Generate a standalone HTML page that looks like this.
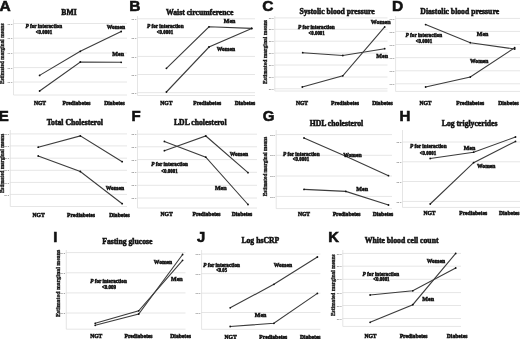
<!DOCTYPE html>
<html><head><meta charset="utf-8"><style>
html,body{margin:0;padding:0;background:#fff;}
body{width:520px;height:339px;overflow:hidden;}
svg{display:block;will-change:transform;filter:blur(0.3px);}
text{stroke:#111;stroke-width:0.5px;}
</style></head><body>
<svg width="520" height="339" viewBox="0 0 520 339">
<defs>
<clipPath id="clipC"><rect x="258" y="0" width="132" height="110"/></clipPath>
<clipPath id="clipG"><rect x="258" y="108" width="132" height="115"/></clipPath>
</defs>
<rect width="520" height="339" fill="#fff"/>
<text x="-0.53" y="10.7" font-family='"Liberation Sans", sans-serif' font-size="15.5" font-weight="bold" font-style="normal" text-anchor="start" fill="#111" style="stroke-width:0.6px">A</text>
<text x="69" y="15.2" font-family='"Liberation Serif", serif' font-size="7.7" font-weight="bold" font-style="normal" text-anchor="middle" fill="#111" style="stroke-width:0.5px">BMI</text>
<line x1="12.9" y1="23.5" x2="127" y2="23.5" stroke="#e6e6e6" stroke-width="1"/>
<text x="12.3" y="24.6" font-family='"Liberation Serif", serif' font-size="2.8" text-anchor="end" fill="#5a5a5a" style="stroke:none">00.0</text>
<line x1="12.9" y1="38.2" x2="127" y2="38.2" stroke="#e6e6e6" stroke-width="1"/>
<text x="12.3" y="39.300000000000004" font-family='"Liberation Serif", serif' font-size="2.8" text-anchor="end" fill="#5a5a5a" style="stroke:none">00.0</text>
<line x1="12.9" y1="53" x2="127" y2="53" stroke="#e6e6e6" stroke-width="1"/>
<text x="12.3" y="54.1" font-family='"Liberation Serif", serif' font-size="2.8" text-anchor="end" fill="#5a5a5a" style="stroke:none">00.0</text>
<line x1="12.9" y1="67.6" x2="127" y2="67.6" stroke="#e6e6e6" stroke-width="1"/>
<text x="12.3" y="68.69999999999999" font-family='"Liberation Serif", serif' font-size="2.8" text-anchor="end" fill="#5a5a5a" style="stroke:none">00.0</text>
<line x1="12.9" y1="82" x2="127" y2="82" stroke="#e6e6e6" stroke-width="1"/>
<text x="12.3" y="83.1" font-family='"Liberation Serif", serif' font-size="2.8" text-anchor="end" fill="#5a5a5a" style="stroke:none">00.0</text>
<line x1="13.5" y1="95" x2="127" y2="95" stroke="#e6e6e6" stroke-width="1"/>
<line x1="13.5" y1="19.5" x2="13.5" y2="95" stroke="#dedede" stroke-width="0.8"/>
<text transform="translate(4.0,53.75) rotate(-90)" font-family='"Liberation Serif", serif' font-size="5.3" font-weight="bold" text-anchor="middle" fill="#111" style="stroke-width:0.3px">Estimated marginal means</text>
<polyline points="39.6,75.4 80.3,51.3 121.2,31.5" fill="none" stroke="#3c3c3c" stroke-width="1.1" stroke-linejoin="miter"/>
<circle cx="39.6" cy="75.4" r="0.9" fill="#111"/>
<circle cx="80.3" cy="51.3" r="0.9" fill="#111"/>
<circle cx="121.2" cy="31.5" r="0.9" fill="#111"/>
<polyline points="39.6,91 80.3,62 121.2,62.3" fill="none" stroke="#3c3c3c" stroke-width="1.1" stroke-linejoin="miter"/>
<circle cx="39.6" cy="91" r="0.9" fill="#111"/>
<circle cx="80.3" cy="62" r="0.9" fill="#111"/>
<circle cx="121.2" cy="62.3" r="0.9" fill="#111"/>
<text x="125" y="29.3" font-family='"Liberation Serif", serif' font-size="5.6" font-weight="bold" font-style="normal" text-anchor="end" fill="#111" >Women</text>
<text x="124" y="55.8" font-family='"Liberation Serif", serif' font-size="6.0" font-weight="bold" font-style="normal" text-anchor="end" fill="#111" >Men</text>
<text x="25.5" y="27.8" font-family='"Liberation Serif", serif' font-size="5.4" font-weight="bold" fill="#111" textLength="36.6" lengthAdjust="spacingAndGlyphs"><tspan font-style="italic">P</tspan> for interaction</text>
<text x="44.0" y="33.6" font-family='"Liberation Serif", serif' font-size="5.4" font-weight="bold" font-style="normal" text-anchor="middle" fill="#111" textLength="16.4" lengthAdjust="spacingAndGlyphs">&lt;0.0001</text>
<text x="40" y="105" font-family='"Liberation Serif", serif' font-size="5.6" font-weight="bold" font-style="normal" text-anchor="middle" fill="#111" >NGT</text>
<text x="76.5" y="105" font-family='"Liberation Serif", serif' font-size="5.6" font-weight="bold" font-style="normal" text-anchor="middle" fill="#111" >Prediabetes</text>
<text x="114.5" y="105" font-family='"Liberation Serif", serif' font-size="5.6" font-weight="bold" font-style="normal" text-anchor="middle" fill="#111" >Diabetes</text>
<text x="129.17" y="10.7" font-family='"Liberation Sans", sans-serif' font-size="15.5" font-weight="bold" font-style="normal" text-anchor="start" fill="#111" style="stroke-width:0.6px">B</text>
<text x="199.65" y="14.6" font-family='"Liberation Serif", serif' font-size="7.7" font-weight="bold" font-style="normal" text-anchor="middle" fill="#111" style="stroke-width:0.5px">Waist circumference</text>
<line x1="136.9" y1="18.8" x2="255" y2="18.8" stroke="#e6e6e6" stroke-width="1"/>
<text x="136.3" y="19.900000000000002" font-family='"Liberation Serif", serif' font-size="2.8" text-anchor="end" fill="#5a5a5a" style="stroke:none">00.0</text>
<line x1="136.9" y1="37.6" x2="255" y2="37.6" stroke="#e6e6e6" stroke-width="1"/>
<text x="136.3" y="38.7" font-family='"Liberation Serif", serif' font-size="2.8" text-anchor="end" fill="#5a5a5a" style="stroke:none">00.0</text>
<line x1="136.9" y1="56.4" x2="255" y2="56.4" stroke="#e6e6e6" stroke-width="1"/>
<text x="136.3" y="57.5" font-family='"Liberation Serif", serif' font-size="2.8" text-anchor="end" fill="#5a5a5a" style="stroke:none">00.0</text>
<line x1="136.9" y1="74.5" x2="255" y2="74.5" stroke="#e6e6e6" stroke-width="1"/>
<text x="136.3" y="75.6" font-family='"Liberation Serif", serif' font-size="2.8" text-anchor="end" fill="#5a5a5a" style="stroke:none">00.0</text>
<line x1="136.9" y1="92.7" x2="255" y2="92.7" stroke="#e6e6e6" stroke-width="1"/>
<text x="136.3" y="93.8" font-family='"Liberation Serif", serif' font-size="2.8" text-anchor="end" fill="#5a5a5a" style="stroke:none">00.0</text>
<line x1="137.5" y1="95.5" x2="255" y2="95.5" stroke="#e6e6e6" stroke-width="1"/>
<line x1="137.5" y1="16" x2="137.5" y2="95.5" stroke="#dedede" stroke-width="0.8"/>
<polyline points="166.4,68.3 209,26.8 251.7,28.4" fill="none" stroke="#3c3c3c" stroke-width="1.1" stroke-linejoin="miter"/>
<circle cx="166.4" cy="68.3" r="0.9" fill="#111"/>
<circle cx="209" cy="26.8" r="0.9" fill="#111"/>
<circle cx="251.7" cy="28.4" r="0.9" fill="#111"/>
<polyline points="166.4,92 209,47 251.7,28.4" fill="none" stroke="#3c3c3c" stroke-width="1.1" stroke-linejoin="miter"/>
<circle cx="166.4" cy="92" r="0.9" fill="#111"/>
<circle cx="209" cy="47" r="0.9" fill="#111"/>
<circle cx="251.7" cy="28.4" r="0.9" fill="#111"/>
<text x="235.4" y="22.8" font-family='"Liberation Serif", serif' font-size="6.0" font-weight="bold" font-style="normal" text-anchor="end" fill="#111" >Men</text>
<text x="235" y="50.8" font-family='"Liberation Serif", serif' font-size="5.6" font-weight="bold" font-style="normal" text-anchor="end" fill="#111" >Women</text>
<text x="147" y="28.2" font-family='"Liberation Serif", serif' font-size="5.4" font-weight="bold" fill="#111" textLength="36.6" lengthAdjust="spacingAndGlyphs"><tspan font-style="italic">P</tspan> for interaction</text>
<text x="165" y="34" font-family='"Liberation Serif", serif' font-size="5.4" font-weight="bold" font-style="normal" text-anchor="middle" fill="#111" textLength="16.4" lengthAdjust="spacingAndGlyphs">&lt;0.0001</text>
<text x="166.3" y="105.3" font-family='"Liberation Serif", serif' font-size="5.6" font-weight="bold" font-style="normal" text-anchor="middle" fill="#111" >NGT</text>
<text x="207.2" y="105.3" font-family='"Liberation Serif", serif' font-size="5.6" font-weight="bold" font-style="normal" text-anchor="middle" fill="#111" >Prediabetes</text>
<text x="245" y="105.3" font-family='"Liberation Serif", serif' font-size="5.6" font-weight="bold" font-style="normal" text-anchor="middle" fill="#111" >Diabetes</text>
<text x="262.35" y="10.9" font-family='"Liberation Sans", sans-serif' font-size="15.5" font-weight="bold" font-style="normal" text-anchor="start" fill="#111" style="stroke-width:0.6px">C</text>
<text x="337.05" y="13.7" font-family='"Liberation Serif", serif' font-size="7.7" font-weight="bold" font-style="normal" text-anchor="middle" fill="#111" style="stroke-width:0.5px">Systolic blood pressure</text>
<line x1="274.2" y1="17.9" x2="387.5" y2="17.9" stroke="#e6e6e6" stroke-width="1"/>
<text x="273.6" y="19.0" font-family='"Liberation Serif", serif' font-size="2.8" text-anchor="end" fill="#5a5a5a" style="stroke:none">00.0</text>
<line x1="274.2" y1="29.3" x2="387.5" y2="29.3" stroke="#e6e6e6" stroke-width="1"/>
<text x="273.6" y="30.400000000000002" font-family='"Liberation Serif", serif' font-size="2.8" text-anchor="end" fill="#5a5a5a" style="stroke:none">00.0</text>
<line x1="274.2" y1="41.2" x2="387.5" y2="41.2" stroke="#e6e6e6" stroke-width="1"/>
<text x="273.6" y="42.300000000000004" font-family='"Liberation Serif", serif' font-size="2.8" text-anchor="end" fill="#5a5a5a" style="stroke:none">00.0</text>
<line x1="274.2" y1="53.1" x2="387.5" y2="53.1" stroke="#e6e6e6" stroke-width="1"/>
<text x="273.6" y="54.2" font-family='"Liberation Serif", serif' font-size="2.8" text-anchor="end" fill="#5a5a5a" style="stroke:none">00.0</text>
<line x1="274.2" y1="65" x2="387.5" y2="65" stroke="#e6e6e6" stroke-width="1"/>
<text x="273.6" y="66.1" font-family='"Liberation Serif", serif' font-size="2.8" text-anchor="end" fill="#5a5a5a" style="stroke:none">00.0</text>
<line x1="274.2" y1="77" x2="387.5" y2="77" stroke="#e6e6e6" stroke-width="1"/>
<text x="273.6" y="78.1" font-family='"Liberation Serif", serif' font-size="2.8" text-anchor="end" fill="#5a5a5a" style="stroke:none">00.0</text>
<line x1="274.2" y1="88.8" x2="387.5" y2="88.8" stroke="#e6e6e6" stroke-width="1"/>
<text x="273.6" y="89.89999999999999" font-family='"Liberation Serif", serif' font-size="2.8" text-anchor="end" fill="#5a5a5a" style="stroke:none">00.0</text>
<line x1="274.8" y1="91" x2="387.5" y2="91" stroke="#e6e6e6" stroke-width="1"/>
<line x1="274.8" y1="16" x2="274.8" y2="91" stroke="#dedede" stroke-width="0.8"/>
<text transform="translate(266.6,52) rotate(-90)" font-family='"Liberation Serif", serif' font-size="5.6" font-weight="bold" text-anchor="middle" fill="#111" style="stroke-width:0.3px">Estimated marginal means</text>
<polyline points="302.7,52.7 342.8,55.5 384.7,48.7" fill="none" stroke="#3c3c3c" stroke-width="1.1" stroke-linejoin="miter"/>
<circle cx="302.7" cy="52.7" r="0.9" fill="#111"/>
<circle cx="342.8" cy="55.5" r="0.9" fill="#111"/>
<circle cx="384.7" cy="48.7" r="0.9" fill="#111"/>
<polyline points="302.3,87 342.8,75.8 384.7,26.9" fill="none" stroke="#3c3c3c" stroke-width="1.1" stroke-linejoin="miter"/>
<circle cx="302.3" cy="87" r="0.9" fill="#111"/>
<circle cx="342.8" cy="75.8" r="0.9" fill="#111"/>
<circle cx="384.7" cy="26.9" r="0.9" fill="#111"/>
<text x="390.5" y="23.8" font-family='"Liberation Serif", serif' font-size="6.0" font-weight="bold" font-style="normal" text-anchor="end" fill="#111" >Women</text>
<text x="388" y="58" font-family='"Liberation Serif", serif' font-size="6.0" font-weight="bold" font-style="normal" text-anchor="end" fill="#111" >Men</text>
<text x="298.1" y="28.8" font-family='"Liberation Serif", serif' font-size="5.4" font-weight="bold" fill="#111" textLength="36.6" lengthAdjust="spacingAndGlyphs"><tspan font-style="italic">P</tspan> for interaction</text>
<text x="316.6" y="34.5" font-family='"Liberation Serif", serif' font-size="5.4" font-weight="bold" font-style="normal" text-anchor="middle" fill="#111" textLength="16.4" lengthAdjust="spacingAndGlyphs">&lt;0.0001</text>
<text x="302" y="105" font-family='"Liberation Serif", serif' font-size="5.6" font-weight="bold" font-style="normal" text-anchor="middle" fill="#111" >NGT</text>
<text x="345" y="105" font-family='"Liberation Serif", serif' font-size="5.6" font-weight="bold" font-style="normal" text-anchor="middle" fill="#111" >Prediabetes</text>
<text x="382.5" y="105" font-family='"Liberation Serif", serif' font-size="5.6" font-weight="bold" font-style="normal" text-anchor="middle" fill="#111" >Diabetes</text>
<text x="392.08" y="10.8" font-family='"Liberation Sans", sans-serif' font-size="15.5" font-weight="bold" font-style="normal" text-anchor="start" fill="#111" style="stroke-width:0.6px">D</text>
<text x="459.7" y="13.8" font-family='"Liberation Serif", serif' font-size="7.7" font-weight="bold" font-style="normal" text-anchor="middle" fill="#111" style="stroke-width:0.5px">Diastolic blood pressure</text>
<line x1="395.0" y1="18.4" x2="520" y2="18.4" stroke="#e6e6e6" stroke-width="1"/>
<text x="394.40000000000003" y="19.5" font-family='"Liberation Serif", serif' font-size="2.8" text-anchor="end" fill="#5a5a5a" style="stroke:none">00.0</text>
<line x1="395.0" y1="31.4" x2="520" y2="31.4" stroke="#e6e6e6" stroke-width="1"/>
<text x="394.40000000000003" y="32.5" font-family='"Liberation Serif", serif' font-size="2.8" text-anchor="end" fill="#5a5a5a" style="stroke:none">00.0</text>
<line x1="395.0" y1="44.5" x2="520" y2="44.5" stroke="#e6e6e6" stroke-width="1"/>
<text x="394.40000000000003" y="45.6" font-family='"Liberation Serif", serif' font-size="2.8" text-anchor="end" fill="#5a5a5a" style="stroke:none">00.0</text>
<line x1="395.0" y1="57.7" x2="520" y2="57.7" stroke="#e6e6e6" stroke-width="1"/>
<text x="394.40000000000003" y="58.800000000000004" font-family='"Liberation Serif", serif' font-size="2.8" text-anchor="end" fill="#5a5a5a" style="stroke:none">00.0</text>
<line x1="395.0" y1="70.8" x2="520" y2="70.8" stroke="#e6e6e6" stroke-width="1"/>
<text x="394.40000000000003" y="71.89999999999999" font-family='"Liberation Serif", serif' font-size="2.8" text-anchor="end" fill="#5a5a5a" style="stroke:none">00.0</text>
<line x1="395.0" y1="83.8" x2="520" y2="83.8" stroke="#e6e6e6" stroke-width="1"/>
<text x="394.40000000000003" y="84.89999999999999" font-family='"Liberation Serif", serif' font-size="2.8" text-anchor="end" fill="#5a5a5a" style="stroke:none">00.0</text>
<line x1="395.6" y1="91.4" x2="520" y2="91.4" stroke="#e6e6e6" stroke-width="1"/>
<line x1="395.6" y1="16" x2="395.6" y2="91.4" stroke="#dedede" stroke-width="0.8"/>
<polyline points="425.6,24.6 470.3,42.7 514.7,49" fill="none" stroke="#3c3c3c" stroke-width="1.1" stroke-linejoin="miter"/>
<circle cx="425.6" cy="24.6" r="0.9" fill="#111"/>
<circle cx="470.3" cy="42.7" r="0.9" fill="#111"/>
<circle cx="514.7" cy="49" r="0.9" fill="#111"/>
<polyline points="425.6,87 470.3,77 514.7,47.7" fill="none" stroke="#3c3c3c" stroke-width="1.1" stroke-linejoin="miter"/>
<circle cx="425.6" cy="87" r="0.9" fill="#111"/>
<circle cx="470.3" cy="77" r="0.9" fill="#111"/>
<circle cx="514.7" cy="47.7" r="0.9" fill="#111"/>
<text x="488.4" y="36.2" font-family='"Liberation Serif", serif' font-size="6.0" font-weight="bold" font-style="normal" text-anchor="end" fill="#111" >Men</text>
<text x="488.4" y="62.5" font-family='"Liberation Serif", serif' font-size="5.6" font-weight="bold" font-style="normal" text-anchor="end" fill="#111" >Women</text>
<text x="405.6" y="36.7" font-family='"Liberation Serif", serif' font-size="5.4" font-weight="bold" fill="#111" textLength="36.6" lengthAdjust="spacingAndGlyphs"><tspan font-style="italic">P</tspan> for interaction</text>
<text x="424" y="42.6" font-family='"Liberation Serif", serif' font-size="5.4" font-weight="bold" font-style="normal" text-anchor="middle" fill="#111" textLength="16.4" lengthAdjust="spacingAndGlyphs">&lt;0.0001</text>
<text x="425.5" y="104.7" font-family='"Liberation Serif", serif' font-size="5.6" font-weight="bold" font-style="normal" text-anchor="middle" fill="#111" >NGT</text>
<text x="470.2" y="104.7" font-family='"Liberation Serif", serif' font-size="5.6" font-weight="bold" font-style="normal" text-anchor="middle" fill="#111" >Prediabetes</text>
<text x="508.5" y="104.7" font-family='"Liberation Serif", serif' font-size="5.6" font-weight="bold" font-style="normal" text-anchor="middle" fill="#111" >Diabetes</text>
<text x="-1.36" y="121.2" font-family='"Liberation Sans", sans-serif' font-size="15" font-weight="bold" font-style="normal" text-anchor="start" fill="#111" style="stroke-width:0.6px">E</text>
<text x="74.8" y="125.0" font-family='"Liberation Serif", serif' font-size="7.7" font-weight="bold" font-style="normal" text-anchor="middle" fill="#111" style="stroke-width:0.5px">Total Cholesterol</text>
<line x1="9.700000000000001" y1="133.9" x2="127" y2="133.9" stroke="#e6e6e6" stroke-width="1"/>
<text x="9.100000000000001" y="135.0" font-family='"Liberation Serif", serif' font-size="2.8" text-anchor="end" fill="#5a5a5a" style="stroke:none">00.0</text>
<line x1="9.700000000000001" y1="145.9" x2="127" y2="145.9" stroke="#e6e6e6" stroke-width="1"/>
<text x="9.100000000000001" y="147.0" font-family='"Liberation Serif", serif' font-size="2.8" text-anchor="end" fill="#5a5a5a" style="stroke:none">00.0</text>
<line x1="9.700000000000001" y1="158.2" x2="127" y2="158.2" stroke="#e6e6e6" stroke-width="1"/>
<text x="9.100000000000001" y="159.29999999999998" font-family='"Liberation Serif", serif' font-size="2.8" text-anchor="end" fill="#5a5a5a" style="stroke:none">00.0</text>
<line x1="9.700000000000001" y1="170.3" x2="127" y2="170.3" stroke="#e6e6e6" stroke-width="1"/>
<text x="9.100000000000001" y="171.4" font-family='"Liberation Serif", serif' font-size="2.8" text-anchor="end" fill="#5a5a5a" style="stroke:none">00.0</text>
<line x1="9.700000000000001" y1="182.4" x2="127" y2="182.4" stroke="#e6e6e6" stroke-width="1"/>
<text x="9.100000000000001" y="183.5" font-family='"Liberation Serif", serif' font-size="2.8" text-anchor="end" fill="#5a5a5a" style="stroke:none">00.0</text>
<line x1="9.700000000000001" y1="194.4" x2="127" y2="194.4" stroke="#e6e6e6" stroke-width="1"/>
<text x="9.100000000000001" y="195.5" font-family='"Liberation Serif", serif' font-size="2.8" text-anchor="end" fill="#5a5a5a" style="stroke:none">00.0</text>
<line x1="10.3" y1="206.5" x2="127" y2="206.5" stroke="#e6e6e6" stroke-width="1"/>
<line x1="10.3" y1="130" x2="10.3" y2="206.5" stroke="#dedede" stroke-width="0.8"/>
<text transform="translate(4.2,163.4) rotate(-90)" font-family='"Liberation Serif", serif' font-size="5.2" font-weight="bold" text-anchor="middle" fill="#111" style="stroke-width:0.3px">Estimated marginal means</text>
<polyline points="38.2,147.2 80.3,135.9 122.2,161.7" fill="none" stroke="#3c3c3c" stroke-width="1.1" stroke-linejoin="miter"/>
<circle cx="38.2" cy="147.2" r="0.9" fill="#111"/>
<circle cx="80.3" cy="135.9" r="0.9" fill="#111"/>
<circle cx="122.2" cy="161.7" r="0.9" fill="#111"/>
<polyline points="38.2,156 80.3,171.5 122.2,203.7" fill="none" stroke="#3c3c3c" stroke-width="1.1" stroke-linejoin="miter"/>
<circle cx="38.2" cy="156" r="0.9" fill="#111"/>
<circle cx="80.3" cy="171.5" r="0.9" fill="#111"/>
<circle cx="122.2" cy="203.7" r="0.9" fill="#111"/>
<text x="124" y="189.5" font-family='"Liberation Serif", serif' font-size="5.6" font-weight="bold" font-style="normal" text-anchor="end" fill="#111" >Women</text>
<text x="38.6" y="217.2" font-family='"Liberation Serif", serif' font-size="5.6" font-weight="bold" font-style="normal" text-anchor="middle" fill="#111" >NGT</text>
<text x="81" y="217.2" font-family='"Liberation Serif", serif' font-size="5.6" font-weight="bold" font-style="normal" text-anchor="middle" fill="#111" >Prediabetes</text>
<text x="119.5" y="217.2" font-family='"Liberation Serif", serif' font-size="5.6" font-weight="bold" font-style="normal" text-anchor="middle" fill="#111" >Diabetes</text>
<text x="131.55" y="121.3" font-family='"Liberation Sans", sans-serif' font-size="15" font-weight="bold" font-style="normal" text-anchor="start" fill="#111" style="stroke-width:0.6px">F</text>
<text x="200.3" y="125.0" font-family='"Liberation Serif", serif' font-size="7.7" font-weight="bold" font-style="normal" text-anchor="middle" fill="#111" style="stroke-width:0.5px">LDL cholesterol</text>
<line x1="136.9" y1="134.2" x2="257" y2="134.2" stroke="#e6e6e6" stroke-width="1"/>
<text x="136.3" y="135.29999999999998" font-family='"Liberation Serif", serif' font-size="2.8" text-anchor="end" fill="#5a5a5a" style="stroke:none">00.0</text>
<line x1="136.9" y1="146.8" x2="257" y2="146.8" stroke="#e6e6e6" stroke-width="1"/>
<text x="136.3" y="147.9" font-family='"Liberation Serif", serif' font-size="2.8" text-anchor="end" fill="#5a5a5a" style="stroke:none">00.0</text>
<line x1="136.9" y1="159.6" x2="257" y2="159.6" stroke="#e6e6e6" stroke-width="1"/>
<text x="136.3" y="160.7" font-family='"Liberation Serif", serif' font-size="2.8" text-anchor="end" fill="#5a5a5a" style="stroke:none">00.0</text>
<line x1="136.9" y1="172.3" x2="257" y2="172.3" stroke="#e6e6e6" stroke-width="1"/>
<text x="136.3" y="173.4" font-family='"Liberation Serif", serif' font-size="2.8" text-anchor="end" fill="#5a5a5a" style="stroke:none">00.0</text>
<line x1="136.9" y1="185.3" x2="257" y2="185.3" stroke="#e6e6e6" stroke-width="1"/>
<text x="136.3" y="186.4" font-family='"Liberation Serif", serif' font-size="2.8" text-anchor="end" fill="#5a5a5a" style="stroke:none">00.0</text>
<line x1="136.9" y1="198" x2="257" y2="198" stroke="#e6e6e6" stroke-width="1"/>
<text x="136.3" y="199.1" font-family='"Liberation Serif", serif' font-size="2.8" text-anchor="end" fill="#5a5a5a" style="stroke:none">00.0</text>
<line x1="137.5" y1="208" x2="257" y2="208" stroke="#e6e6e6" stroke-width="1"/>
<line x1="137.5" y1="130" x2="137.5" y2="208" stroke="#dedede" stroke-width="0.8"/>
<polyline points="164.4,150.7 205.8,136 248,172.7" fill="none" stroke="#3c3c3c" stroke-width="1.1" stroke-linejoin="miter"/>
<circle cx="164.4" cy="150.7" r="0.9" fill="#111"/>
<circle cx="205.8" cy="136" r="0.9" fill="#111"/>
<circle cx="248" cy="172.7" r="0.9" fill="#111"/>
<polyline points="164.4,141.4 205.8,157.2 248,204.5" fill="none" stroke="#3c3c3c" stroke-width="1.1" stroke-linejoin="miter"/>
<circle cx="164.4" cy="141.4" r="0.9" fill="#111"/>
<circle cx="205.8" cy="157.2" r="0.9" fill="#111"/>
<circle cx="248" cy="204.5" r="0.9" fill="#111"/>
<text x="248" y="155.8" font-family='"Liberation Serif", serif' font-size="5.6" font-weight="bold" font-style="normal" text-anchor="end" fill="#111" >Women</text>
<text x="226.6" y="189.8" font-family='"Liberation Serif", serif' font-size="6.0" font-weight="bold" font-style="normal" text-anchor="end" fill="#111" >Men</text>
<text x="151.3" y="166.3" font-family='"Liberation Serif", serif' font-size="5.4" font-weight="bold" fill="#111" textLength="36.6" lengthAdjust="spacingAndGlyphs"><tspan font-style="italic">P</tspan> for interaction</text>
<text x="169.5" y="172.5" font-family='"Liberation Serif", serif' font-size="5.4" font-weight="bold" font-style="normal" text-anchor="middle" fill="#111" textLength="16.4" lengthAdjust="spacingAndGlyphs">&lt;0.0001</text>
<text x="166.6" y="216.4" font-family='"Liberation Serif", serif' font-size="5.6" font-weight="bold" font-style="normal" text-anchor="middle" fill="#111" >NGT</text>
<text x="206.5" y="216.4" font-family='"Liberation Serif", serif' font-size="5.6" font-weight="bold" font-style="normal" text-anchor="middle" fill="#111" >Prediabetes</text>
<text x="242" y="216.4" font-family='"Liberation Serif", serif' font-size="5.6" font-weight="bold" font-style="normal" text-anchor="middle" fill="#111" >Diabetes</text>
<text x="262.64" y="121.2" font-family='"Liberation Sans", sans-serif' font-size="15" font-weight="bold" font-style="normal" text-anchor="start" fill="#111" style="stroke-width:0.6px">G</text>
<text x="336.45" y="125.5" font-family='"Liberation Serif", serif' font-size="7.7" font-weight="bold" font-style="normal" text-anchor="middle" fill="#111" style="stroke-width:0.5px">HDL cholesterol</text>
<line x1="275.59999999999997" y1="134.6" x2="392" y2="134.6" stroke="#e6e6e6" stroke-width="1"/>
<text x="275.0" y="135.7" font-family='"Liberation Serif", serif' font-size="2.8" text-anchor="end" fill="#5a5a5a" style="stroke:none">00.0</text>
<line x1="275.59999999999997" y1="155.3" x2="392" y2="155.3" stroke="#e6e6e6" stroke-width="1"/>
<text x="275.0" y="156.4" font-family='"Liberation Serif", serif' font-size="2.8" text-anchor="end" fill="#5a5a5a" style="stroke:none">00.0</text>
<line x1="275.59999999999997" y1="176" x2="392" y2="176" stroke="#e6e6e6" stroke-width="1"/>
<text x="275.0" y="177.1" font-family='"Liberation Serif", serif' font-size="2.8" text-anchor="end" fill="#5a5a5a" style="stroke:none">00.0</text>
<line x1="275.59999999999997" y1="196.4" x2="392" y2="196.4" stroke="#e6e6e6" stroke-width="1"/>
<text x="275.0" y="197.5" font-family='"Liberation Serif", serif' font-size="2.8" text-anchor="end" fill="#5a5a5a" style="stroke:none">00.0</text>
<line x1="276.2" y1="208.6" x2="392" y2="208.6" stroke="#e6e6e6" stroke-width="1"/>
<line x1="276.2" y1="130" x2="276.2" y2="208.6" stroke="#dedede" stroke-width="0.8"/>
<text transform="translate(267.4,166.5) rotate(-90)" font-family='"Liberation Serif", serif' font-size="5.2" font-weight="bold" text-anchor="middle" fill="#111" style="stroke-width:0.3px">Estimated marginal means</text>
<polyline points="304,138 345.8,156.3 388.5,175.7" fill="none" stroke="#3c3c3c" stroke-width="1.1" stroke-linejoin="miter"/>
<circle cx="304" cy="138" r="0.9" fill="#111"/>
<circle cx="345.8" cy="156.3" r="0.9" fill="#111"/>
<circle cx="388.5" cy="175.7" r="0.9" fill="#111"/>
<polyline points="304,189.4 345.8,191.4 388.5,205" fill="none" stroke="#3c3c3c" stroke-width="1.1" stroke-linejoin="miter"/>
<circle cx="304" cy="189.4" r="0.9" fill="#111"/>
<circle cx="345.8" cy="191.4" r="0.9" fill="#111"/>
<circle cx="388.5" cy="205" r="0.9" fill="#111"/>
<text x="361.6" y="157" font-family='"Liberation Serif", serif' font-size="5.6" font-weight="bold" font-style="normal" text-anchor="end" fill="#111" >Women</text>
<text x="368" y="190.5" font-family='"Liberation Serif", serif' font-size="6.0" font-weight="bold" font-style="normal" text-anchor="end" fill="#111" >Men</text>
<text x="283" y="155.8" font-family='"Liberation Serif", serif' font-size="5.4" font-weight="bold" fill="#111" textLength="36.6" lengthAdjust="spacingAndGlyphs"><tspan font-style="italic">P</tspan> for interaction</text>
<text x="301" y="161.4" font-family='"Liberation Serif", serif' font-size="5.4" font-weight="bold" font-style="normal" text-anchor="middle" fill="#111" textLength="16.4" lengthAdjust="spacingAndGlyphs">&lt;0.0001</text>
<text x="304" y="216" font-family='"Liberation Serif", serif' font-size="5.6" font-weight="bold" font-style="normal" text-anchor="middle" fill="#111" >NGT</text>
<text x="346.6" y="216" font-family='"Liberation Serif", serif' font-size="5.6" font-weight="bold" font-style="normal" text-anchor="middle" fill="#111" >Prediabetes</text>
<text x="382.9" y="216" font-family='"Liberation Serif", serif' font-size="5.6" font-weight="bold" font-style="normal" text-anchor="middle" fill="#111" >Diabetes</text>
<text x="399.6" y="121.3" font-family='"Liberation Sans", sans-serif' font-size="15" font-weight="bold" font-style="normal" text-anchor="start" fill="#111" style="stroke-width:0.6px">H</text>
<text x="469.65" y="126.0" font-family='"Liberation Serif", serif' font-size="7.7" font-weight="bold" font-style="normal" text-anchor="middle" fill="#111" style="stroke-width:0.5px">Log triglycerides</text>
<line x1="401.9" y1="142" x2="520" y2="142" stroke="#e6e6e6" stroke-width="1"/>
<text x="401.3" y="143.1" font-family='"Liberation Serif", serif' font-size="2.8" text-anchor="end" fill="#5a5a5a" style="stroke:none">00.0</text>
<line x1="401.9" y1="161.8" x2="520" y2="161.8" stroke="#e6e6e6" stroke-width="1"/>
<text x="401.3" y="162.9" font-family='"Liberation Serif", serif' font-size="2.8" text-anchor="end" fill="#5a5a5a" style="stroke:none">00.0</text>
<line x1="401.9" y1="181.5" x2="520" y2="181.5" stroke="#e6e6e6" stroke-width="1"/>
<text x="401.3" y="182.6" font-family='"Liberation Serif", serif' font-size="2.8" text-anchor="end" fill="#5a5a5a" style="stroke:none">00.0</text>
<line x1="401.9" y1="201.4" x2="520" y2="201.4" stroke="#e6e6e6" stroke-width="1"/>
<text x="401.3" y="202.5" font-family='"Liberation Serif", serif' font-size="2.8" text-anchor="end" fill="#5a5a5a" style="stroke:none">00.0</text>
<line x1="402.5" y1="207.4" x2="520" y2="207.4" stroke="#e6e6e6" stroke-width="1"/>
<line x1="402.5" y1="130" x2="402.5" y2="207.4" stroke="#dedede" stroke-width="0.8"/>
<polyline points="430.2,158.5 473.6,152.2 515.5,137" fill="none" stroke="#3c3c3c" stroke-width="1.1" stroke-linejoin="miter"/>
<circle cx="430.2" cy="158.5" r="0.9" fill="#111"/>
<circle cx="473.6" cy="152.2" r="0.9" fill="#111"/>
<circle cx="515.5" cy="137" r="0.9" fill="#111"/>
<polyline points="430.2,204 473.6,162.7 515.5,141.4" fill="none" stroke="#3c3c3c" stroke-width="1.1" stroke-linejoin="miter"/>
<circle cx="430.2" cy="204" r="0.9" fill="#111"/>
<circle cx="473.6" cy="162.7" r="0.9" fill="#111"/>
<circle cx="515.5" cy="141.4" r="0.9" fill="#111"/>
<text x="475.3" y="149.8" font-family='"Liberation Serif", serif' font-size="6.0" font-weight="bold" font-style="normal" text-anchor="end" fill="#111" >Men</text>
<text x="495.4" y="167.8" font-family='"Liberation Serif", serif' font-size="5.6" font-weight="bold" font-style="normal" text-anchor="end" fill="#111" >Women</text>
<text x="410" y="148.4" font-family='"Liberation Serif", serif' font-size="5.4" font-weight="bold" fill="#111" textLength="36.6" lengthAdjust="spacingAndGlyphs"><tspan font-style="italic">P</tspan> for interaction</text>
<text x="428" y="154.6" font-family='"Liberation Serif", serif' font-size="5.4" font-weight="bold" font-style="normal" text-anchor="middle" fill="#111" textLength="16.4" lengthAdjust="spacingAndGlyphs">&lt;0.0001</text>
<text x="429.5" y="215.2" font-family='"Liberation Serif", serif' font-size="5.6" font-weight="bold" font-style="normal" text-anchor="middle" fill="#111" >NGT</text>
<text x="473.2" y="215.2" font-family='"Liberation Serif", serif' font-size="5.6" font-weight="bold" font-style="normal" text-anchor="middle" fill="#111" >Prediabetes</text>
<text x="499" y="215.2" font-family='"Liberation Serif", serif' font-size="5.6" font-weight="bold" font-style="normal" text-anchor="start" fill="#111" >Diabetes</text>
<text x="53.17" y="242.3" font-family='"Liberation Sans", sans-serif' font-size="14.8" font-weight="bold" font-style="normal" text-anchor="start" fill="#111" style="stroke-width:0.6px">I</text>
<text x="127.3" y="243.5" font-family='"Liberation Serif", serif' font-size="7.7" font-weight="bold" font-style="normal" text-anchor="middle" fill="#111" style="stroke-width:0.5px">Fasting glucose</text>
<line x1="65.7" y1="252.6" x2="185.5" y2="252.6" stroke="#e6e6e6" stroke-width="1"/>
<text x="65.1" y="253.7" font-family='"Liberation Serif", serif' font-size="2.8" text-anchor="end" fill="#5a5a5a" style="stroke:none">00.0</text>
<line x1="65.7" y1="272.8" x2="185.5" y2="272.8" stroke="#e6e6e6" stroke-width="1"/>
<text x="65.1" y="273.90000000000003" font-family='"Liberation Serif", serif' font-size="2.8" text-anchor="end" fill="#5a5a5a" style="stroke:none">00.0</text>
<line x1="65.7" y1="292.9" x2="185.5" y2="292.9" stroke="#e6e6e6" stroke-width="1"/>
<text x="65.1" y="294.0" font-family='"Liberation Serif", serif' font-size="2.8" text-anchor="end" fill="#5a5a5a" style="stroke:none">00.0</text>
<line x1="65.7" y1="313" x2="185.5" y2="313" stroke="#e6e6e6" stroke-width="1"/>
<text x="65.1" y="314.1" font-family='"Liberation Serif", serif' font-size="2.8" text-anchor="end" fill="#5a5a5a" style="stroke:none">00.0</text>
<line x1="66.3" y1="329.2" x2="185.5" y2="329.2" stroke="#e6e6e6" stroke-width="1"/>
<line x1="66.3" y1="250" x2="66.3" y2="329.2" stroke="#dedede" stroke-width="0.8"/>
<text transform="translate(60.2,283.4) rotate(-90)" font-family='"Liberation Serif", serif' font-size="5.9" font-weight="bold" text-anchor="middle" fill="#111" style="stroke-width:0.3px">Estimated marginal means</text>
<polyline points="95.2,325.3 138.7,314 182.6,254.5" fill="none" stroke="#3c3c3c" stroke-width="1.1" stroke-linejoin="miter"/>
<circle cx="95.2" cy="325.3" r="0.9" fill="#111"/>
<circle cx="138.7" cy="314" r="0.9" fill="#111"/>
<circle cx="182.6" cy="254.5" r="0.9" fill="#111"/>
<polyline points="95.2,323.3 138.7,310.8 182.6,260.3" fill="none" stroke="#3c3c3c" stroke-width="1.1" stroke-linejoin="miter"/>
<circle cx="95.2" cy="323.3" r="0.9" fill="#111"/>
<circle cx="138.7" cy="310.8" r="0.9" fill="#111"/>
<circle cx="182.6" cy="260.3" r="0.9" fill="#111"/>
<text x="172.2" y="264.2" font-family='"Liberation Serif", serif' font-size="5.6" font-weight="bold" font-style="normal" text-anchor="end" fill="#111" >Women</text>
<text x="182.7" y="281.3" font-family='"Liberation Serif", serif' font-size="6.0" font-weight="bold" font-style="normal" text-anchor="end" fill="#111" >Men</text>
<text x="90.2" y="283.3" font-family='"Liberation Serif", serif' font-size="5.4" font-weight="bold" fill="#111" textLength="36.6" lengthAdjust="spacingAndGlyphs"><tspan font-style="italic">P</tspan> for interaction</text>
<text x="109" y="289.4" font-family='"Liberation Serif", serif' font-size="5.4" font-weight="bold" font-style="normal" text-anchor="middle" fill="#111" textLength="14.0" lengthAdjust="spacingAndGlyphs">&lt;0.009</text>
<text x="96.2" y="338.4" font-family='"Liberation Serif", serif' font-size="5.6" font-weight="bold" font-style="normal" text-anchor="middle" fill="#111" >NGT</text>
<text x="138.5" y="338.4" font-family='"Liberation Serif", serif' font-size="5.6" font-weight="bold" font-style="normal" text-anchor="middle" fill="#111" >Prediabetes</text>
<text x="180.6" y="338.4" font-family='"Liberation Serif", serif' font-size="5.6" font-weight="bold" font-style="normal" text-anchor="middle" fill="#111" >Diabetes</text>
<text x="196.9" y="242.3" font-family='"Liberation Sans", sans-serif' font-size="14.8" font-weight="bold" font-style="normal" text-anchor="start" fill="#111" style="stroke-width:0.6px">J</text>
<text x="260.3" y="243.1" font-family='"Liberation Serif", serif' font-size="7.7" font-weight="bold" font-style="normal" text-anchor="middle" fill="#111" style="stroke-width:0.5px">Log hsCRP</text>
<line x1="201.0" y1="254" x2="320.4" y2="254" stroke="#e6e6e6" stroke-width="1"/>
<text x="200.4" y="255.1" font-family='"Liberation Serif", serif' font-size="2.8" text-anchor="end" fill="#5a5a5a" style="stroke:none">00.0</text>
<line x1="201.0" y1="273.7" x2="320.4" y2="273.7" stroke="#e6e6e6" stroke-width="1"/>
<text x="200.4" y="274.8" font-family='"Liberation Serif", serif' font-size="2.8" text-anchor="end" fill="#5a5a5a" style="stroke:none">00.0</text>
<line x1="201.0" y1="293.2" x2="320.4" y2="293.2" stroke="#e6e6e6" stroke-width="1"/>
<text x="200.4" y="294.3" font-family='"Liberation Serif", serif' font-size="2.8" text-anchor="end" fill="#5a5a5a" style="stroke:none">00.0</text>
<line x1="201.0" y1="312.5" x2="320.4" y2="312.5" stroke="#e6e6e6" stroke-width="1"/>
<text x="200.4" y="313.6" font-family='"Liberation Serif", serif' font-size="2.8" text-anchor="end" fill="#5a5a5a" style="stroke:none">00.0</text>
<line x1="201.6" y1="329.3" x2="320.4" y2="329.3" stroke="#e6e6e6" stroke-width="1"/>
<line x1="201.6" y1="250" x2="201.6" y2="329.3" stroke="#dedede" stroke-width="0.8"/>
<polyline points="230.2,307.8 273.9,284.3 317.4,257" fill="none" stroke="#3c3c3c" stroke-width="1.1" stroke-linejoin="miter"/>
<circle cx="230.2" cy="307.8" r="0.9" fill="#111"/>
<circle cx="273.9" cy="284.3" r="0.9" fill="#111"/>
<circle cx="317.4" cy="257" r="0.9" fill="#111"/>
<polyline points="230.2,326.5 273.9,323.3 317.4,293.4" fill="none" stroke="#3c3c3c" stroke-width="1.1" stroke-linejoin="miter"/>
<circle cx="230.2" cy="326.5" r="0.9" fill="#111"/>
<circle cx="273.9" cy="323.3" r="0.9" fill="#111"/>
<circle cx="317.4" cy="293.4" r="0.9" fill="#111"/>
<text x="292" y="266.8" font-family='"Liberation Serif", serif' font-size="5.6" font-weight="bold" font-style="normal" text-anchor="end" fill="#111" >Women</text>
<text x="266.4" y="317.3" font-family='"Liberation Serif", serif' font-size="6.0" font-weight="bold" font-style="normal" text-anchor="end" fill="#111" >Men</text>
<text x="203.3" y="266.8" font-family='"Liberation Serif", serif' font-size="5.4" font-weight="bold" fill="#111" textLength="36.6" lengthAdjust="spacingAndGlyphs"><tspan font-style="italic">P</tspan> for interaction</text>
<text x="221.6" y="272" font-family='"Liberation Serif", serif' font-size="5.4" font-weight="bold" font-style="normal" text-anchor="middle" fill="#111" textLength="10.8" lengthAdjust="spacingAndGlyphs">&lt;0.05</text>
<text x="230.6" y="339.3" font-family='"Liberation Serif", serif' font-size="5.6" font-weight="bold" font-style="normal" text-anchor="middle" fill="#111" >NGT</text>
<text x="273.3" y="339.3" font-family='"Liberation Serif", serif' font-size="5.6" font-weight="bold" font-style="normal" text-anchor="middle" fill="#111" >Prediabetes</text>
<text x="310.3" y="339.3" font-family='"Liberation Serif", serif' font-size="5.6" font-weight="bold" font-style="normal" text-anchor="middle" fill="#111" >Diabetes</text>
<text x="328.17" y="242.3" font-family='"Liberation Sans", sans-serif' font-size="14.8" font-weight="bold" font-style="normal" text-anchor="start" fill="#111" style="stroke-width:0.6px">K</text>
<text x="401.65" y="242.8" font-family='"Liberation Serif", serif' font-size="7.7" font-weight="bold" font-style="normal" text-anchor="middle" fill="#111" style="stroke-width:0.5px">White blood cell count</text>
<line x1="342.2" y1="253.4" x2="461" y2="253.4" stroke="#e6e6e6" stroke-width="1"/>
<text x="341.6" y="254.5" font-family='"Liberation Serif", serif' font-size="2.8" text-anchor="end" fill="#5a5a5a" style="stroke:none">00.0</text>
<line x1="342.2" y1="266.2" x2="461" y2="266.2" stroke="#e6e6e6" stroke-width="1"/>
<text x="341.6" y="267.3" font-family='"Liberation Serif", serif' font-size="2.8" text-anchor="end" fill="#5a5a5a" style="stroke:none">00.0</text>
<line x1="342.2" y1="279.3" x2="461" y2="279.3" stroke="#e6e6e6" stroke-width="1"/>
<text x="341.6" y="280.40000000000003" font-family='"Liberation Serif", serif' font-size="2.8" text-anchor="end" fill="#5a5a5a" style="stroke:none">00.0</text>
<line x1="342.2" y1="292.6" x2="461" y2="292.6" stroke="#e6e6e6" stroke-width="1"/>
<text x="341.6" y="293.70000000000005" font-family='"Liberation Serif", serif' font-size="2.8" text-anchor="end" fill="#5a5a5a" style="stroke:none">00.0</text>
<line x1="342.2" y1="305.5" x2="461" y2="305.5" stroke="#e6e6e6" stroke-width="1"/>
<text x="341.6" y="306.6" font-family='"Liberation Serif", serif' font-size="2.8" text-anchor="end" fill="#5a5a5a" style="stroke:none">00.0</text>
<line x1="342.2" y1="318.5" x2="461" y2="318.5" stroke="#e6e6e6" stroke-width="1"/>
<text x="341.6" y="319.6" font-family='"Liberation Serif", serif' font-size="2.8" text-anchor="end" fill="#5a5a5a" style="stroke:none">00.0</text>
<line x1="342.8" y1="326.4" x2="461" y2="326.4" stroke="#e6e6e6" stroke-width="1"/>
<line x1="342.8" y1="250" x2="342.8" y2="326.4" stroke="#dedede" stroke-width="0.8"/>
<text transform="translate(335.2,285.2) rotate(-90)" font-family='"Liberation Serif", serif' font-size="5.4" font-weight="bold" text-anchor="middle" fill="#111" style="stroke-width:0.3px">Estimated marginal means</text>
<polyline points="370.1,295 412.8,290.8 455.7,268" fill="none" stroke="#3c3c3c" stroke-width="1.1" stroke-linejoin="miter"/>
<circle cx="370.1" cy="295" r="0.9" fill="#111"/>
<circle cx="412.8" cy="290.8" r="0.9" fill="#111"/>
<circle cx="455.7" cy="268" r="0.9" fill="#111"/>
<polyline points="370.1,322.3 412.8,304.7 455.7,253.4" fill="none" stroke="#3c3c3c" stroke-width="1.1" stroke-linejoin="miter"/>
<circle cx="370.1" cy="322.3" r="0.9" fill="#111"/>
<circle cx="412.8" cy="304.7" r="0.9" fill="#111"/>
<circle cx="455.7" cy="253.4" r="0.9" fill="#111"/>
<text x="445" y="262.8" font-family='"Liberation Serif", serif' font-size="5.6" font-weight="bold" font-style="normal" text-anchor="end" fill="#111" >Women</text>
<text x="434" y="301.4" font-family='"Liberation Serif", serif' font-size="6.0" font-weight="bold" font-style="normal" text-anchor="end" fill="#111" >Men</text>
<text x="362.6" y="275.5" font-family='"Liberation Serif", serif' font-size="5.4" font-weight="bold" fill="#111" textLength="36.6" lengthAdjust="spacingAndGlyphs"><tspan font-style="italic">P</tspan> for interaction</text>
<text x="381.4" y="281.3" font-family='"Liberation Serif", serif' font-size="5.4" font-weight="bold" font-style="normal" text-anchor="middle" fill="#111" textLength="16.4" lengthAdjust="spacingAndGlyphs">&lt;0.0001</text>
<text x="370.5" y="337.8" font-family='"Liberation Serif", serif' font-size="5.6" font-weight="bold" font-style="normal" text-anchor="middle" fill="#111" >NGT</text>
<text x="413.6" y="337.8" font-family='"Liberation Serif", serif' font-size="5.6" font-weight="bold" font-style="normal" text-anchor="middle" fill="#111" >Prediabetes</text>
<text x="457.1" y="337.8" font-family='"Liberation Serif", serif' font-size="5.6" font-weight="bold" font-style="normal" text-anchor="middle" fill="#111" >Diabetes</text>
</svg>
</body></html>
